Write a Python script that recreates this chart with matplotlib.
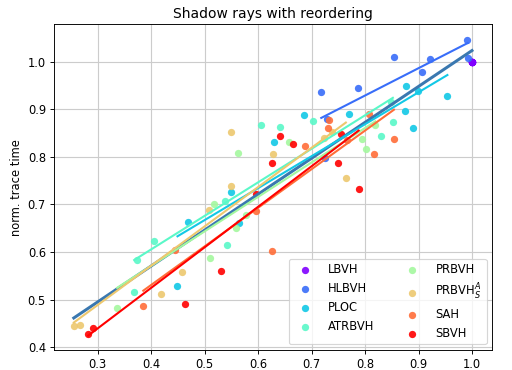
import matplotlib
matplotlib.use("Agg")
import matplotlib.pyplot as plt
import numpy as np

# normalized build time (x) vs normalized trace time (y), per builder
names = ['LBVH', 'HLBVH', 'PLOC', 'ATRBVH', 'PRBVH', r'PRBVH$_S^A$', 'SAH', 'SBVH']

lbvh_x = [1.0, 1.0, 1.0, 1.0, 1.0, 1.0, 1.0, 1.0, 1.0]
lbvh_y = [1.0, 1.0, 1.0, 1.0, 1.0, 1.0, 1.0, 1.0, 1.0]

hlbvh_x = [0.718, 0.786, 0.855, 0.922, 0.907, 0.991, 0.992, 0.729, 0.725]
hlbvh_y = [0.935, 0.945, 1.009, 1.006, 0.977, 1.046, 1.007, 0.879, 0.798]

ploc_x = [0.686, 0.770, 0.876, 0.899, 0.954, 0.875, 0.889, 0.630, 0.549, 0.565, 0.469, 0.449]
ploc_y = [0.888, 0.890, 0.949, 0.938, 0.928, 0.897, 0.860, 0.832, 0.725, 0.660, 0.662, 0.528]

atrbvh_x = [0.702, 0.849, 0.852, 0.829, 0.606, 0.641, 0.538, 0.542, 0.405, 0.373, 0.368]
atrbvh_y = [0.876, 0.916, 0.873, 0.844, 0.867, 0.863, 0.708, 0.615, 0.623, 0.584, 0.515]

prbvh_x = [0.819, 0.795, 0.801, 0.562, 0.657, 0.517, 0.578, 0.558, 0.510, 0.336]
prbvh_y = [0.866, 0.837, 0.816, 0.808, 0.830, 0.701, 0.677, 0.650, 0.587, 0.482]

prbvhs_x = [0.550, 0.628, 0.724, 0.739, 0.764, 0.550, 0.508, 0.457, 0.419, 0.255, 0.267]
prbvhs_y = [0.853, 0.805, 0.840, 0.852, 0.756, 0.738, 0.688, 0.557, 0.511, 0.445, 0.446]

sah_x = [0.733, 0.730, 0.807, 0.688, 0.767, 0.854, 0.816, 0.595, 0.626, 0.445, 0.385]
sah_y = [0.878, 0.860, 0.890, 0.823, 0.835, 0.837, 0.806, 0.687, 0.602, 0.604, 0.486]

sbvh_x = [0.282, 0.291, 0.464, 0.531, 0.595, 0.626, 0.641, 0.665, 0.749, 0.755, 0.788]
sbvh_y = [0.427, 0.441, 0.491, 0.560, 0.721, 0.786, 0.844, 0.826, 0.787, 0.848, 0.733]

xs = [lbvh_x, hlbvh_x, ploc_x, atrbvh_x, prbvh_x, prbvhs_x, sah_x, sbvh_x]
ys = [lbvh_y, hlbvh_y, ploc_y, atrbvh_y, prbvh_y, prbvhs_y, sah_y, sbvh_y]

colors = plt.cm.rainbow(np.linspace(0, 1, len(names)))

fig = plt.figure(figsize=(512 / 83, 370 / 83), dpi=83)
ax = fig.add_axes([0.1055, 0.054, 0.856, 0.88])

# fit over everything
all_x = np.concatenate([np.array(x) for x in xs])
all_y = np.concatenate([np.array(y) for y in ys])
k, d = np.polyfit(all_x, all_y, 1)
fx = np.array([all_x.min(), all_x.max()])
ax.plot(fx, k * fx + d, color='#3a78b0', lw=2.6)

for name, x, y, c in zip(names, xs, ys, colors):
    x = np.array(x)
    y = np.array(y)
    ax.scatter(x, y, color=c, s=40, alpha=0.9, label=name, linewidths=0)
    if np.ptp(x) > 0:
        k, d = np.polyfit(x, y, 1)
        lx = np.array([x.min(), x.max()])
        ax.plot(lx, k * lx + d, color=c, lw=1.8)

ax.set_xlim(0.218, 1.038)
ax.set_ylim(0.394, 1.078)
ax.set_xticks([0.3, 0.4, 0.5, 0.6, 0.7, 0.8, 0.9, 1.0])
ax.set_yticks([0.4, 0.5, 0.6, 0.7, 0.8, 0.9, 1.0])
ax.grid(True, color='#cccccc', lw=1)
ax.set_axisbelow(True)
ax.set_title('Shadow rays with reordering')
ax.set_ylabel('norm. trace time')
ax.legend(loc='lower right', ncol=2, fontsize=10, handletextpad=1.0,
          columnspacing=2.3)

fig.savefig('out.png', dpi=83)
